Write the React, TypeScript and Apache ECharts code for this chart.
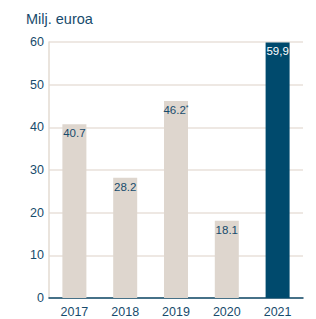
import React, { useEffect, useRef } from "react";
import * as echarts from "echarts";

const categories = ["2017", "2018", "2019", "2020", "2021"];
const values = [40.7, 28.2, 46.2, 18.1, 59.9];
const labels = ["40.7", "28.2", "46.2{s|*}", "18.1", "59,9"];
const yTicks = [0, 10, 20, 30, 40, 50, 60];

export default function App() {
  const ref = useRef<HTMLDivElement>(null);
  useEffect(() => {
    const chart = echarts.init(ref.current!, null, { renderer: "svg" });
    const textColor = "#174b6c";
    const font = "Liberation Sans";
    chart.setOption({
      animation: false,
      title: {
        text: "Milj. euroa",
        left: 21,
        top: 6,
        textStyle: { color: textColor, fontSize: 14.5, fontWeight: "normal", fontFamily: font },
      },
      grid: { left: 49, right: 13, top: 42, bottom: 21 },
      xAxis: {
        type: "category",
        data: categories,
        axisLine: { lineStyle: { color: "#0f4a6b", width: 1.5 } },
        axisTick: { show: false },
        axisLabel: { color: textColor, fontSize: 12.5, fontFamily: font, margin: 7 },
      },
      yAxis: {
        type: "value",
        min: yTicks[0],
        max: yTicks[yTicks.length - 1],
        interval: 10,
        axisLine: { show: true, lineStyle: { color: "#e3dbd2", width: 1.5 } },
        axisTick: { show: false },
        splitLine: { lineStyle: { color: "#e8e1da", width: 1.5 } },
        axisLabel: { color: textColor, fontSize: 12.5, fontFamily: font, margin: 5 },
      },
      series: [
        {
          type: "bar",
          barWidth: 24,
          data: values.map((v, i) => ({
            value: v,
            itemStyle: { color: i === values.length - 1 ? "#004a6d" : "#ded6ce" },
            label: {
              color: i === values.length - 1 ? "#ffffff" : textColor,
            },
          })),
          label: {
            show: true,
            position: "insideTop",
            distance: 3,
            fontSize: 11.5,
            fontWeight: 500,
            fontFamily: font,
            formatter: (p: any) => labels[p.dataIndex],
            rich: { s: { fontSize: 7, verticalAlign: "top", color: textColor, padding: [0, 0, 4, 0] } },
          },
        },
      ],
    });
    return () => chart.dispose();
  }, []);
  return <div ref={ref} style={{ width: 316, height: 319, position: "absolute", left: 0, top: 0 }} />;
}
